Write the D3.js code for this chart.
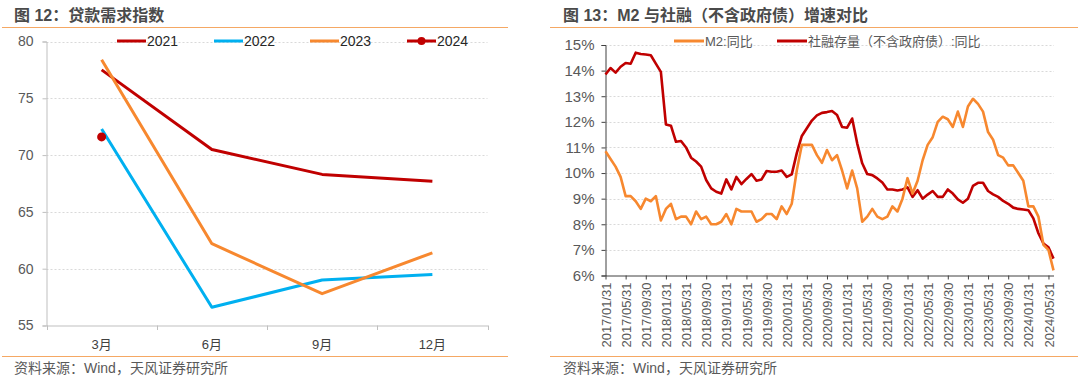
<!DOCTYPE html>
<html>
<head>
<meta charset="utf-8">
<script src="https://cdn.jsdelivr.net/npm/d3@7"></script>
<style>
  html, body { margin: 0; padding: 0; background: #fff; }
  svg { display: block; }
  text { font-family: "Liberation Sans", Arial, "Noto Sans CJK SC", sans-serif; }
</style>
</head>
<body>
<svg id="chart" width="1080" height="378"></svg>
<script>
// ---------- Left chart data: 贷款需求指数 ----------
const loanCategories = ["3月", "6月", "9月", "12月"];
const loanYears = ["2021", "2022", "2023", "2024"];
const loan2021 = [77.5, 70.5, 68.3, 67.7];
const loan2022 = [72.3, 56.6, 59.0, 59.5];
const loan2023 = [78.4, 62.2, 57.8, 61.4];
const loan2024 = [71.6];
const loanYTicks = [55, 60, 65, 70, 75, 80];

// ---------- Right chart data: M2 与社融增速 ----------
const rateStart = "2017-01";   // first month of the series
const m2Yoy = [
  10.85, 10.55, 10.25, 9.85, 9.1, 9.1, 8.9, 8.6, 9.0, 8.9, 9.1, 8.15,
  8.6, 8.8, 8.2, 8.3, 8.3, 8.0, 8.5, 8.2, 8.3, 8.0, 8.0, 8.1,
  8.4, 8.0, 8.6, 8.5, 8.5, 8.5, 8.1, 8.2, 8.4, 8.4, 8.2, 8.7,
  8.4, 8.8, 10.1, 11.1, 11.1, 11.1, 10.7, 10.4, 10.9, 10.5, 10.7, 10.1,
  9.4, 10.1, 9.4, 8.1, 8.3, 8.6, 8.3, 8.2, 8.3, 8.7, 8.5, 9.0,
  9.8, 9.2, 9.7, 10.5, 11.1, 11.4, 12.0, 12.2, 12.1, 11.8, 12.4, 11.8,
  12.6, 12.9, 12.7, 12.4, 11.6, 11.3, 10.7, 10.6, 10.3, 10.3, 10.0, 9.7,
  8.7, 8.7, 8.3, 7.2, 7.0, 6.2
];
const tsfExGovYoy = [
  13.85, 14.1, 13.92, 14.15, 14.3, 14.27, 14.7, 14.65, 14.63, 14.6, 14.27, 13.95,
  11.9, 11.85, 11.22, 11.25, 11.0, 10.6, 10.45, 10.25, 9.73, 9.4, 9.27, 9.2,
  9.75, 9.36, 9.85, 9.57, 9.77, 9.96, 9.7, 9.75, 10.08, 10.05, 10.05, 10.1,
  9.85, 9.95, 10.78, 11.45, 11.75, 12.05, 12.25, 12.35, 12.38, 12.42, 12.27, 11.8,
  11.77, 12.13, 11.16, 10.38, 9.96, 9.92, 9.79, 9.63, 9.36, 9.36, 9.32, 9.36,
  9.44, 9.07, 9.33, 9.0, 9.16, 9.3, 9.07, 9.07, 9.36, 9.2, 8.97, 8.84,
  9.0, 9.5, 9.62, 9.62, 9.3, 9.17, 9.07, 8.91, 8.8, 8.65, 8.6, 8.58,
  8.55, 8.23, 7.65, 7.25, 7.1, 6.66
];
const rateTickLabels = [
  "2017/01/31","2017/05/31","2017/09/30","2018/01/31","2018/05/31","2018/09/30",
  "2019/01/31","2019/05/31","2019/09/30","2020/01/31","2020/05/31","2020/09/30",
  "2021/01/31","2021/05/31","2021/09/30","2022/01/31","2022/05/31","2022/09/30",
  "2023/01/31","2023/05/31","2023/09/30","2024/01/31","2024/05/31"
];
const rateYTicks = [6, 7, 8, 9, 10, 11, 12, 13, 14, 15];
const rateSeriesNames = ["M2:同比", "社融存量（不含政府债）:同比"];

// ---------- styles ----------
const RED = "#C00000", BLUE = "#00B0F0", ORANGE = "#F7882F";
const RULE = "#F5A864", GRID = "#D9D9D9", TXT = "#595959", TITLE = "#4A4A4A";

const svg = d3.select("#chart");

// ================= LEFT PANEL =================
(function () {
  const g = svg.append("g");
  g.append("text").attr("x", 14).attr("y", 21)
    .attr("font-size", 16).attr("font-weight", "bold").attr("fill", TITLE)
    .text("图 12：贷款需求指数");
  g.append("line").attr("x1", 2).attr("x2", 508).attr("y1", 27.5).attr("y2", 27.5)
    .attr("stroke", RULE).attr("stroke-width", 1);
  g.append("line").attr("x1", 2).attr("x2", 508).attr("y1", 356.5).attr("y2", 356.5)
    .attr("stroke", RULE).attr("stroke-width", 1);
  g.append("text").attr("x", 14).attr("y", 373)
    .attr("font-size", 14).attr("fill", TXT)
    .text("资料来源：Wind，天风证券研究所");

  const x = d3.scaleBand().domain(loanCategories).range([46.5, 487.5]);
  const y = d3.scaleLinear().domain([55, 80]).range([325.5, 41.5]);

  g.append("g").selectAll("line").data(loanYTicks.filter(d => d > 55)).join("line")
    .attr("x1", 46.5).attr("x2", 487.5)
    .attr("y1", d => Math.round(y(d)) + 0.5).attr("y2", d => Math.round(y(d)) + 0.5)
    .attr("stroke", GRID).attr("stroke-dasharray", "2,2");

  const ya = g.append("g").attr("transform", "translate(46.5,0)")
    .call(d3.axisLeft(y).tickValues(loanYTicks).tickSize(4).tickPadding(9));
  ya.select(".domain").attr("stroke", "#BFBFBF");
  ya.selectAll(".tick line").attr("stroke", "#BFBFBF");
  ya.selectAll(".tick text").attr("font-size", 14).attr("fill", TXT)
    .attr("font-family", "Liberation Sans, Arial, sans-serif");

  const xa = g.append("g").attr("transform", "translate(0,325.5)")
    .call(d3.axisBottom(x).tickSize(0).tickPadding(14));
  xa.select(".domain").attr("stroke", "#BFBFBF");
  xa.selectAll(".tick text").attr("font-size", 13).attr("fill", "#404040")
    .attr("font-family", "Liberation Sans, Arial, Noto Sans CJK SC, sans-serif");
  const edges = loanCategories.map(c => x(c)).concat([x.range()[1]]);
  g.append("g").selectAll("line").data(edges).join("line")
    .attr("x1", d => Math.round(d) + 0.5).attr("x2", d => Math.round(d) + 0.5)
    .attr("y1", 325.5).attr("y2", 330).attr("stroke", "#BFBFBF");

  const cx = c => x(c) + x.bandwidth() / 2;
  const line = d3.line().x((d, i) => cx(loanCategories[i])).y(d => y(d));
  const series = [
    { vals: loan2021, color: RED },
    { vals: loan2022, color: BLUE },
    { vals: loan2023, color: ORANGE }
  ];
  series.forEach(s => {
    g.append("path").datum(s.vals).attr("d", line)
      .attr("fill", "none").attr("stroke", s.color).attr("stroke-width", 3)
      .attr("stroke-linejoin", "round");
  });
  g.append("g").selectAll("circle").data(loan2024).join("circle")
    .attr("cx", (d, i) => cx(loanCategories[i])).attr("cy", d => y(d))
    .attr("r", 4.5).attr("fill", RED);

  const leg = [
    { name: loanYears[0], color: RED, x: 117 },
    { name: loanYears[1], color: BLUE, x: 214 },
    { name: loanYears[2], color: ORANGE, x: 310 },
    { name: loanYears[3], color: RED, x: 407, dot: true }
  ];
  leg.forEach(l => {
    g.append("line").attr("x1", l.x).attr("x2", l.x + 29).attr("y1", 41).attr("y2", 41)
      .attr("stroke", l.color).attr("stroke-width", 3);
    if (l.dot) g.append("circle").attr("cx", l.x + 14.5).attr("cy", 41).attr("r", 4).attr("fill", l.color);
    g.append("text").attr("x", l.x + 30).attr("y", 46).attr("font-size", 14)
      .attr("fill", "#262626").text(l.name);
  });
})();

// ================= RIGHT PANEL =================
(function () {
  const g = svg.append("g");
  g.append("text").attr("x", 563).attr("y", 21)
    .attr("font-size", 16).attr("font-weight", "bold").attr("fill", TITLE)
    .text("图 13：M2 与社融（不含政府债）增速对比");
  g.append("line").attr("x1", 550).attr("x2", 1078).attr("y1", 27.5).attr("y2", 27.5)
    .attr("stroke", RULE).attr("stroke-width", 1);
  g.append("line").attr("x1", 550).attr("x2", 1078).attr("y1", 356.5).attr("y2", 356.5)
    .attr("stroke", RULE).attr("stroke-width", 1);
  g.append("text").attr("x", 563).attr("y", 373)
    .attr("font-size", 14).attr("fill", TXT)
    .text("资料来源：Wind，天风证券研究所");

  const start = d3.timeParse("%Y-%m")(rateStart);
  const fmt = d3.timeFormat("%Y/%m/%d");
  const months = m2Yoy.map((d, i) => fmt(d3.timeDay.offset(d3.timeMonth.offset(start, i + 1), -1)));

  const x = d3.scalePoint().domain(months).range([605.5, 1053.5]);
  const y = d3.scaleLinear().domain([6, 15]).range([275.5, 45]);

  g.append("g").selectAll("line").data(rateYTicks.filter(d => d > 6)).join("line")
    .attr("x1", 605.5).attr("x2", 1054)
    .attr("y1", d => Math.round(y(d)) + 0.5).attr("y2", d => Math.round(y(d)) + 0.5)
    .attr("stroke", GRID).attr("stroke-dasharray", "2,2");

  const ya = g.append("g").attr("transform", "translate(605.5,0)")
    .call(d3.axisLeft(y).tickValues(rateYTicks).tickSize(4).tickPadding(7).tickFormat(d => d + "%"));
  ya.select(".domain").attr("stroke", "#404040");
  ya.selectAll(".tick line").attr("stroke", "#404040");
  ya.selectAll(".tick text").attr("font-size", 15).attr("fill", TXT)
    .attr("font-family", "Liberation Sans, Arial, sans-serif");

  const xa = g.append("g").attr("transform", "translate(0,275.5)")
    .call(d3.axisBottom(x).tickValues(rateTickLabels).tickSize(4).tickSizeOuter(0));
  xa.select(".domain").attr("stroke", "#404040");
  xa.selectAll(".tick line").attr("stroke", "#404040");
  xa.selectAll(".tick text")
    .attr("font-size", 13).attr("fill", TXT)
    .attr("font-family", "Liberation Sans, Arial, sans-serif")
    .attr("text-anchor", "end")
    .attr("transform", "rotate(-90)")
    .attr("x", -7).attr("y", 0).attr("dy", "0.35em");

  const lineGen = d3.line().x((d, i) => x(months[i])).y(d => y(d));
  g.append("path").datum(tsfExGovYoy).attr("d", lineGen)
    .attr("fill", "none").attr("stroke", RED).attr("stroke-width", 2.6)
    .attr("stroke-linejoin", "round");
  g.append("path").datum(m2Yoy).attr("d", lineGen)
    .attr("fill", "none").attr("stroke", ORANGE).attr("stroke-width", 2.6)
    .attr("stroke-linejoin", "round");

  const leg = [
    { name: rateSeriesNames[0], color: ORANGE, x: 674 },
    { name: rateSeriesNames[1], color: RED, x: 777 }
  ];
  leg.forEach(l => {
    g.append("line").attr("x1", l.x).attr("x2", l.x + 30).attr("y1", 41).attr("y2", 41)
      .attr("stroke", l.color).attr("stroke-width", 3);
    g.append("text").attr("x", l.x + 31).attr("y", 46).attr("font-size", 13)
      .attr("fill", TXT).text(l.name);
  });
})();
</script>
</body>
</html>
